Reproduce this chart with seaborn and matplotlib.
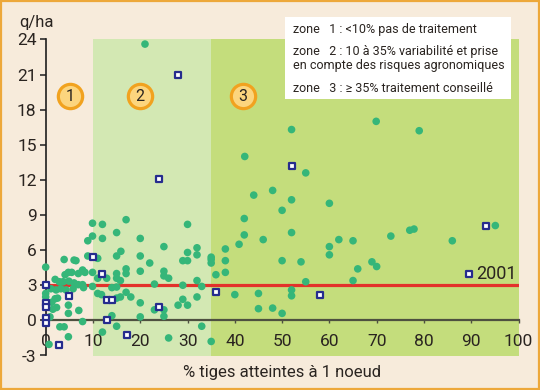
import matplotlib
matplotlib.use("Agg")
import matplotlib.pyplot as plt
import seaborn as sns
import pandas as pd
from matplotlib.patches import Rectangle

sns.set_style("white")
plt.rcParams['font.family'] = ['Roboto', 'DejaVu Sans']

# ---- data ----
dots_x = [21.0, 69.9, 52.0, 79.0, 42.1, 55.0, 48.0, 44.0, 52.0, 60.0, 50.0, 42.0, 52.0, 42.0, 46.0,
          62.0, 65.0, 73.0, 77.0, 77.9, 86.0, 95.1, 40.9, 38.0, 60.0, 60.0, 50.0, 54.0, 69.0, 70.0,
          66.0, 65.0, 55.0, 52.0, 52.0, 48.0, 50.0, 45.0, 45.0, 38.0, 38.0, 36.0, 35.0, 35.0, 35.0,
          40.0, 35.0, 33.0, 33.0, 32.0, 32.0, 32.0, 32.0, 30.0, 30.0, 30.0, 29.0, 29.0, 29.0, 30.0,
          28.0, 26.0, 25.0, 25.0, 25.0, 26.0, 23.0, 22.0, 23.0, 25.0, 25.0, 20.0, 20.0, 20.0, 20.0,
          20.0, 18.0, 17.0, 17.0, 17.0, 17.0, 15.9, 15.0, 15.0, 15.0, 15.0, 15.8, 15.0, 15.8, 15.0,
          14.0, 14.0, 15.0, 12.0, 12.0, 12.0, 12.9, 11.0, 11.0, 9.9, 9.9, 8.9, 8.9, 9.9, 9.9,
          11.0, 11.8,
          0.0, 3.9, 6.0, 6.4, 7.8, 8.3, 6.9, 4.8, 4.1, 5.5,
          2.0, 2.9, 3.7, 4.9, 6.0, 6.9, 7.8,
          1.1, 2.2, 3.2, 4.3, 5.8, 8.0,
          2.0, 1.3, 2.5, 2.3, 1.5, 4.8, 4.8, 7.0, 0.9, 7.8,
          3.0, 3.9, 4.8, 0.7, 0.0, 0.0]
dots_y = [23.6, 17.0, 16.3, 16.2, 14.0, 12.6, 11.1, 10.7, 10.3, 10.0, 9.4, 8.7, 7.5, 7.3, 6.9,
          6.9, 6.8, 7.2, 7.7, 7.8, 6.8, 8.1, 6.5, 6.1, 6.3, 5.6, 5.1, 5.0, 5.0, 4.6,
          4.4, 3.4, 3.3, 2.6, 2.1, 1.05, 0.6, 2.3, 1.0, 5.1, 4.1, 3.9, 5.4, 5.2, 4.9,
          2.2, -1.8, -0.5, 2.9, 6.2, 5.6, 3.4, 2.0, 8.2, 5.8, 5.1, 5.1, 3.0, 1.8, 1.3,
          1.3, -1.5, 6.3, 4.2, 3.8, 3.6, 3.1, 4.9, 0.9, 0.9, 0.35, 7.0, 5.5, 4.2, 1.5,
          0.3, 2.0, 8.6, 4.4, 4.0, 2.4, 5.9, 7.5, 5.5, 4.0, 3.6, 3.4, 2.85, 2.0, 1.9,
          2.8, 0.4, -0.5, -1.0, 8.2, 7.0, 3.6, 3.6, 5.3, 8.3, 7.2, 6.8, 5.5, 4.1, 2.9,
          2.3, 2.2,
          4.55, 5.2, 5.15, 5.1, 4.3, 4.1, 4.0, 4.1, 3.9, 4.1,
          3.5, 3.3, 3.3, 3.35, 3.2, 3.05, 3.05,
          2.7, 2.6, 2.7, 2.6, 2.7, 2.8,
          1.85, 1.55, 1.9, 1.1, 0.95, 1.3, 0.6, 0.85, 0.3, -0.1,
          -0.55, -0.55, -1.4, -2.05, 2.3, 2.0]
sq_x = [28.0, 24.0, 52.0, 93.1, 89.5, 58.0, 36.0, 24.0, 9.9, 12.0, 12.9, 14.0, 12.9, 17.2,
        2.9, 4.9, 0.0, 0.0, 0.0, 0.0, 0.0]
sq_y = [21.0, 12.1, 13.2, 8.1, 4.0, 2.2, 2.4, 1.1, 5.4, 4.0, 1.7, 1.7, 0.0, -1.25,
        -2.1, 2.1, 3.0, 1.45, 1.1, 0.23, -0.26]
threshold = 3
zones = [(10, 35), (35, 100)]
zone_labels = ["1", "2", "3"]
zone_label_x = [5.1, 19.9, 41.7]
x_ticks = [0, 10, 20, 30, 40, 50, 60, 70, 80, 90, 100]
y_ticks = [-3, 0, 3, 6, 9, 12, 15, 18, 21, 24]
legend_lines = ["zone   1 : <10% pas de traitement",
                "zone   2 : 10 à 35% variabilité et prise",
                "en compte des risques agronomiques",
                "zone   3 : ≥ 35% traitement conseillé"]

BG = "#f7ebdb"
Z2 = "#d3e8b3"
Z3 = "#c4dd7c"
GREEN = "#35b679"
NAVY = "#262c8e"
RED = "#e3322b"
ORANGE = "#eda83a"
TXT = "#2a2420"

fig = plt.figure(figsize=(5.4, 3.9), dpi=100, facecolor=BG)
ax = fig.add_axes([45.7 / 540, 1 - 355.5 / 390, 472.8 / 540, 316.1 / 390])
ax.set_facecolor(BG)
ax.set_xlim(0, 100)
ax.set_ylim(-3, 24)

for (a, b), c in zip(zones, [Z2, Z3]):
    ax.add_patch(Rectangle((a, -3), b - a, 27, facecolor=c, edgecolor="none", zorder=0))

ax.plot([0, 100], [threshold, threshold], color=RED, lw=2.3, zorder=3, solid_capstyle="butt")

dots = pd.DataFrame({"x": dots_x, "y": dots_y})
sqs = pd.DataFrame({"x": sq_x, "y": sq_y})
sns.scatterplot(data=dots, x="x", y="y", ax=ax, color=GREEN, s=30, edgecolor="none",
                zorder=4, clip_on=False)
sns.scatterplot(data=sqs, x="x", y="y", ax=ax, marker="s", facecolor="white",
                edgecolor=NAVY, linewidth=1.6, s=22, zorder=5, clip_on=False)

ax.text(91.0, 4.0, "2001", fontsize=13, color=TXT, va="center", ha="left", zorder=6)

for lab, xx in zip(zone_labels, zone_label_x):
    ax.plot([xx], [19.2], marker="o", markersize=17.5, markerfacecolor="#fcd57e",
            markeredgecolor="#f1a21f", markeredgewidth=2.3, zorder=6)
    ax.text(xx, 19.15, lab, fontsize=11.5, color=TXT, ha="center", va="center", zorder=7)

for s in ["top", "right"]:
    ax.spines[s].set_visible(False)
ax.spines["left"].set_color("#1e1e1e")
ax.spines["left"].set_linewidth(1.2)
ax.spines["bottom"].set_position(("data", 0))
ax.spines["bottom"].set_color("#4e5040")
ax.spines["bottom"].set_linewidth(1.6)
ax.spines["bottom"].set_zorder(2)

ax.set_xticks(x_ticks)
ax.set_xticklabels([str(t) for t in x_ticks])
ax.set_yticks(y_ticks)
ax.set_yticklabels([str(t) for t in y_ticks])
ax.tick_params(axis="y", direction="out", length=4.5, width=1.1, color="#1e1e1e",
               labelsize=12.5, labelcolor=TXT, pad=2, left=True)
ax.tick_params(axis="x", direction="out", length=2.5, width=1.0, color="#4e5040",
               labelsize=12.5, labelcolor=TXT, pad=7, bottom=True)
ax.set_xlabel("")
ax.set_ylabel("")

fig.text(282 / 540, 1 - 372 / 390, "% tiges atteintes à 1 noeud", fontsize=12, color=TXT,
         ha="center", va="center")
fig.text(19 / 540, 1 - 22 / 390, "q/ha", fontsize=12, color=TXT, ha="left", va="center")

fig.patches.append(Rectangle((285 / 540, 1 - 99 / 390), 226 / 540, 82 / 390,
                             transform=fig.transFigure, facecolor="white",
                             edgecolor="none", zorder=8))
legend_texts = []
for line, py in zip(legend_lines, [30, 51, 66, 88]):
    legend_texts.append(fig.text(293 / 540, 1 - py / 390, line, fontsize=10, color=TXT,
                                 ha="left", va="center", zorder=9))

fig.canvas.draw()
r = fig.canvas.get_renderer()
wmax = max(t.get_window_extent(r).width for t in legend_texts)
scale = min(1.0, 210 / wmax)
for t in legend_texts:
    t.set_fontsize(10 * scale)

fig.patches.append(Rectangle((0.002, 0.003), 0.996, 0.994, transform=fig.transFigure,
                             facecolor="none", edgecolor=ORANGE, linewidth=1.6, zorder=10))

fig.savefig("out.png", dpi=100, facecolor=BG)
